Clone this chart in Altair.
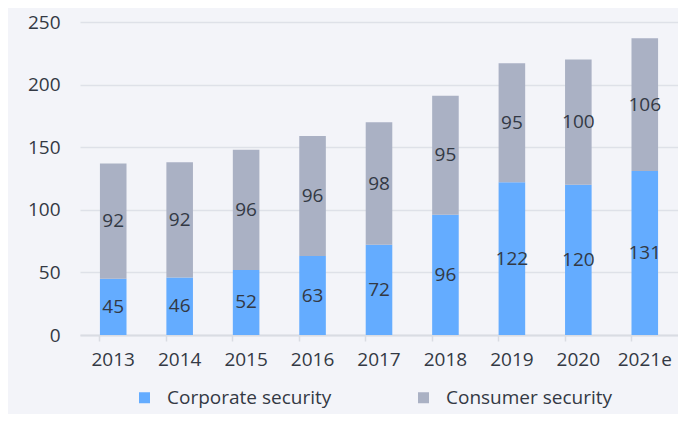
import altair as alt
import pandas as pd

years = ["2013", "2014", "2015", "2016", "2017", "2018", "2019", "2020", "2021e"]
corporate = [45, 46, 52, 63, 72, 96, 122, 120, 131]
consumer = [92, 92, 96, 96, 98, 95, 95, 100, 106]
series = ["Corporate security", "Consumer security"]
colors = ["#64ACFF", "#AAB1C4"]

rows = []
for i, y in enumerate(years):
    rows.append({"year": y, "series": series[0], "value": corporate[i], "ord": 0})
    rows.append({"year": y, "series": series[1], "value": consumer[i], "ord": 1})
df = pd.DataFrame(rows)

FONT = "Open Sans"
TXT = "#333944"

base = alt.Chart(df).transform_stack(
    stack="value", groupby=["year"], as_=["v0", "v1"], sort=[alt.SortField("ord", "ascending")]
).transform_calculate(mid="(datum.v0 + datum.v1) / 2")

x = alt.X("year:N", sort=years, title=None,
          scale=alt.Scale(paddingInner=0.6, paddingOuter=0.3),
          axis=alt.Axis(labelAngle=0, labelFontSize=19, labelFont=FONT, labelColor=TXT,
                        domainColor="#D9DCE3", domainWidth=2, tickColor="#D9DCE3",
                        tickWidth=1.5, tickSize=6, labelPadding=9, bandPosition=0,
                        ticks=True, grid=False))

bars = base.mark_bar().encode(
    x=x,
    y=alt.Y("v0:Q", title=None,
            scale=alt.Scale(domain=[0, 250], nice=False),
            axis=alt.Axis(values=[0, 50, 100, 150, 200, 250], labelFontSize=19,
                          labelFont=FONT, labelColor=TXT, ticks=False, domain=False,
                          labelPadding=20, gridColor="#DEE1E8", gridWidth=1.5)),
    y2="v1:Q",
    color=alt.Color("series:N", scale=alt.Scale(domain=series, range=colors),
                    legend=alt.Legend(title=None, orient="none", direction="horizontal",
                                      legendX=55, legendY=366, symbolType="square",
                                      symbolSize=121, symbolStrokeWidth=0,
                                      labelFontSize=19, labelFont=FONT, labelColor=TXT,
                                      labelLimit=400,
                                      columnPadding=82, labelOffset=13, padding=0)),
)

labels = base.mark_text(fontSize=19, font=FONT, color=TXT).encode(
    x=alt.X("year:N", sort=years),
    y=alt.Y("mid:Q"),
    text=alt.Text("value:Q"),
)

chart = (bars + labels).properties(
    width=598, height=313,
    autosize=alt.AutoSizeParams(type="none"),
    padding={"left": 72, "top": 14, "right": 0, "bottom": 79},
    background="#F3F4F9",
).configure_view(stroke=None)

chart.save("out.html", embed_options={"renderer": "svg", "actions": False})
